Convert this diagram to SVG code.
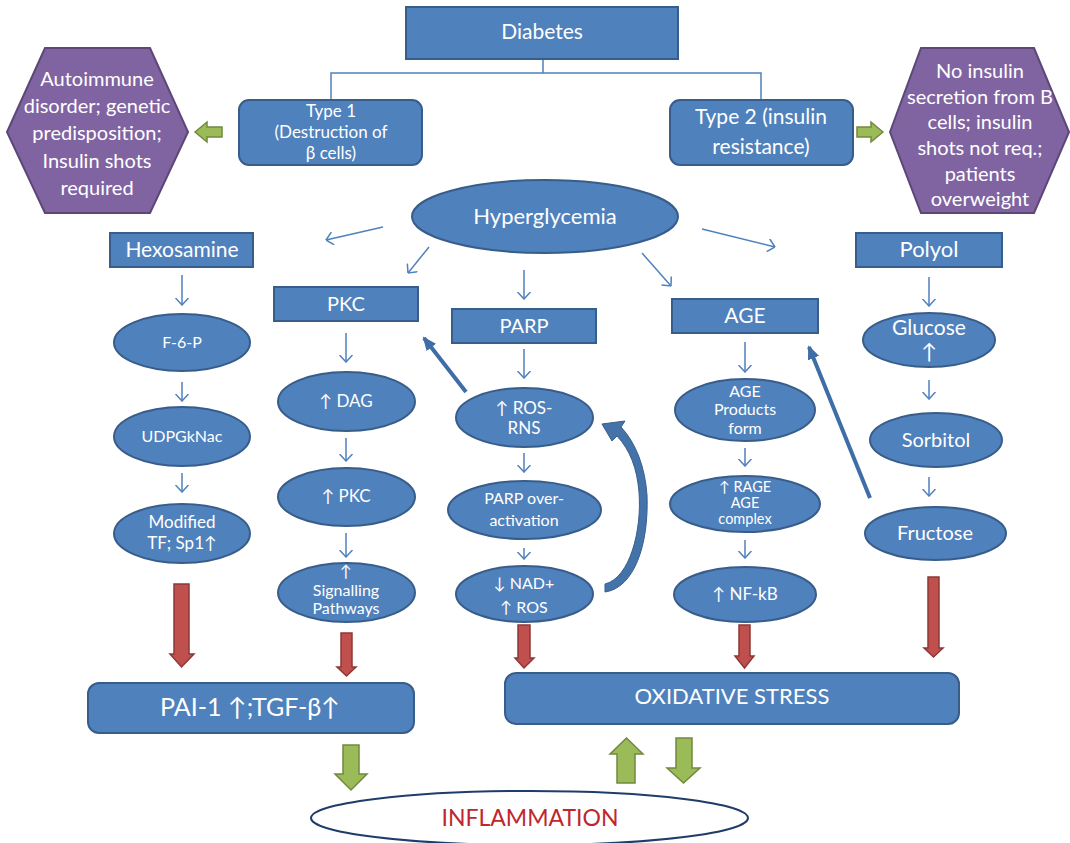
<svg xmlns="http://www.w3.org/2000/svg" width="1070" height="843" viewBox="0 0 1070 843">
<style>
.box{fill:#4F81BD;stroke:#385D8A;stroke-width:2}
.hex{fill:#8064A2;stroke:#5C4776;stroke-width:2}
.t{font-family:Lato,"Liberation Sans",sans-serif;fill:#FFFFFF;text-anchor:middle}
.thin{fill:none;stroke:#4F81BD;stroke-width:1.5}
.thick{fill:none;stroke:#3F6DA8;stroke-width:4}
.red{fill:#C0504D;stroke:#8C3836;stroke-width:1.5}
.green{fill:#9BBB59;stroke:#71893F;stroke-width:1.5}
</style>
<defs>
<marker id="open" viewBox="0 0 8 14" refX="7.5" refY="7" markerWidth="8" markerHeight="14" orient="auto" markerUnits="userSpaceOnUse">
<path d="M0.5,0.5 L7.5,7 L0.5,13.5" fill="none" stroke="#4F81BD" stroke-width="1.5"/>
</marker>
<marker id="solid" viewBox="0 0 14 12" refX="12" refY="6" markerWidth="14" markerHeight="12" orient="auto" markerUnits="userSpaceOnUse">
<path d="M0,0 L14,6 L0,12 Z" fill="#3F6DA8"/>
</marker>
</defs>
<rect width="1070" height="843" fill="#FFFFFF"/>

<g id="connectors">
<path class="thin" d="M543,59 V73 M331,100 V73 H761 V100" stroke-width="2"/>
<line class="thin" x1="383" y1="227" x2="326" y2="240" marker-end="url(#open)"/>
<line class="thin" x1="429" y1="247" x2="408" y2="273" marker-end="url(#open)"/>
<line class="thin" x1="524" y1="270" x2="524" y2="299" marker-end="url(#open)"/>
<line class="thin" x1="642" y1="253" x2="671" y2="286" marker-end="url(#open)"/>
<line class="thin" x1="702" y1="229" x2="775" y2="247" marker-end="url(#open)"/>
<line class="thin" x1="182" y1="275" x2="182" y2="305" marker-end="url(#open)"/>
<line class="thin" x1="182" y1="382" x2="182" y2="401" marker-end="url(#open)"/>
<line class="thin" x1="182" y1="473" x2="182" y2="492" marker-end="url(#open)"/>
<line class="thin" x1="346" y1="333" x2="346" y2="362" marker-end="url(#open)"/>
<line class="thin" x1="346" y1="438" x2="346" y2="461" marker-end="url(#open)"/>
<line class="thin" x1="346" y1="533" x2="346" y2="557" marker-end="url(#open)"/>
<line class="thin" x1="524" y1="349" x2="524" y2="378" marker-end="url(#open)"/>
<line class="thin" x1="524" y1="453" x2="524" y2="472" marker-end="url(#open)"/>
<line class="thin" x1="524" y1="548" x2="524" y2="559" marker-end="url(#open)"/>
<line class="thin" x1="745" y1="342" x2="745" y2="372" marker-end="url(#open)"/>
<line class="thin" x1="745" y1="448" x2="745" y2="466" marker-end="url(#open)"/>
<line class="thin" x1="745" y1="540" x2="745" y2="558" marker-end="url(#open)"/>
<line class="thin" x1="929" y1="277" x2="929" y2="306" marker-end="url(#open)"/>
<line class="thin" x1="929" y1="380" x2="929" y2="399" marker-end="url(#open)"/>
<line class="thin" x1="929" y1="477" x2="929" y2="496" marker-end="url(#open)"/>
<line class="thick" x1="466" y1="392" x2="424" y2="338" marker-end="url(#solid)"/>
<line class="thick" x1="870" y1="498" x2="809" y2="347" marker-end="url(#solid)"/>
<path d="M605,584 C630,578 642,530 639,492 C637,468 630,450 617,436 L612,441 L602,424 L625,421 L621,427 C636,443 645,467 647,495 C649,545 634,588 605,592 Z" fill="#4473AA" stroke="#385D8A" stroke-width="1"/>
<polygon class="red" points="174,584 189,584 189,654 194,654 181.5,667 170,654 174,654"/>
<polygon class="red" points="341,633 352,633 352,667 356,667 346.5,676 337,667 341,667"/>
<polygon class="red" points="518,625 530,625 530,658 534,658 524,668 515,658 518,658"/>
<polygon class="red" points="739,625 750,625 750,656 754,656 744.5,668 735,656 739,656"/>
<polygon class="red" points="928,577 939,577 939,648 943,648 933.5,657 924,648 928,648"/>
<polygon class="green" points="195,132 207,122 207,127 222,127 222,137 207,137 207,142"/>
<polygon class="green" points="883,132 871,122 871,127 857,127 857,137 871,137 871,142"/>
<polygon class="green" points="343,745 359,745 359,774 367,774 351,790 335,774 343,774"/>
<polygon class="green" points="626.5,738 643,754 635,754 635,783 617,783 617,754 610,754"/>
<polygon class="green" points="676,738 692,738 692,768 700,768 683.5,783 667,768 676,768"/>
</g>

<g id="diabetes"><rect class="box" x="406" y="7" width="272" height="52"/><text class="t" x="542" y="39" font-size="21">Diabetes</text></g>
<g id="type1"><rect class="box" x="239" y="100" width="183" height="65" rx="10"/><text class="t" font-size="17"><tspan x="331" y="117">Type 1</tspan><tspan x="331" y="138">(Destruction of</tspan><tspan x="331" y="159">β cells)</tspan></text></g>
<g id="type2"><rect class="box" x="670" y="100" width="183" height="65" rx="10"/><text class="t" font-size="21"><tspan x="761" y="124">Type 2 (insulin</tspan><tspan x="761" y="154">resistance)</tspan></text></g>
<g id="type1-info"><polygon class="hex" points="7,132 45,48 150,48 188,132 150,213 45,213"/><text class="t" font-size="20"><tspan x="97" y="86">Autoimmune</tspan><tspan x="97" y="113">disorder; genetic</tspan><tspan x="97" y="140">predisposition;</tspan><tspan x="97" y="168">Insulin shots</tspan><tspan x="97" y="195">required</tspan></text></g>
<g id="type2-info"><polygon class="hex" points="890,132 921,48 1034,48 1069,132 1034,213 921,213"/><text class="t" font-size="20"><tspan x="980" y="78">No insulin</tspan><tspan x="980" y="104">secretion from B</tspan><tspan x="980" y="129">cells; insulin</tspan><tspan x="980" y="155">shots not req.;</tspan><tspan x="980" y="181">patients</tspan><tspan x="980" y="206">overweight</tspan></text></g>
<g id="hyperglycemia"><ellipse class="box" cx="545" cy="216.5" rx="133" ry="36.5"/><text class="t" x="545" y="224" font-size="22">Hyperglycemia</text></g>

<g id="hexosamine"><rect class="box" x="110" y="233" width="143" height="34"/><text class="t" x="182" y="257" font-size="21">Hexosamine</text></g>
<g id="f6p"><ellipse class="box" cx="182" cy="342.5" rx="68" ry="28.5"/><text class="t" x="182" y="348" font-size="16">F-6-P</text></g>
<g id="udpgknac"><ellipse class="box" cx="182" cy="436.5" rx="68" ry="29.5"/><text class="t" x="182" y="442" font-size="16">UDPGkNac</text></g>
<g id="modified-tf"><ellipse class="box" cx="182" cy="533.5" rx="68" ry="29.5"/><text class="t" font-size="17"><tspan x="182" y="528">Modified</tspan><tspan x="182" y="549">TF; Sp1↑</tspan></text></g>

<g id="pkc"><rect class="box" x="274" y="287" width="144" height="34"/><text class="t" x="346" y="311" font-size="20">PKC</text></g>
<g id="dag"><ellipse class="box" cx="346.5" cy="401.5" rx="68.5" ry="29.5"/><text class="t" x="346" y="407" font-size="17">↑ DAG</text></g>
<g id="pkc-up"><ellipse class="box" cx="346.5" cy="497" rx="68.5" ry="29"/><text class="t" x="346" y="502" font-size="17">↑ PKC</text></g>
<g id="signalling"><ellipse class="box" cx="346.5" cy="592.5" rx="68.5" ry="29.5"/><text class="t" font-size="16"><tspan x="346" y="577">↑</tspan><tspan x="346" y="596">Signalling</tspan><tspan x="346" y="614">Pathways</tspan></text></g>

<g id="parp"><rect class="box" x="452" y="309" width="144" height="34"/><text class="t" x="524" y="333" font-size="20">PARP</text></g>
<g id="ros-rns"><ellipse class="box" cx="524.5" cy="417.5" rx="68.5" ry="29.5"/><text class="t" font-size="17"><tspan x="524" y="414">↑ ROS-</tspan><tspan x="524" y="434">RNS</tspan></text></g>
<g id="parp-over"><ellipse class="box" cx="524.5" cy="510" rx="76.5" ry="29"/><text class="t" font-size="16"><tspan x="524" y="504">PARP over-</tspan><tspan x="524" y="526">activation</tspan></text></g>
<g id="nad"><ellipse class="box" cx="524.5" cy="594" rx="68.5" ry="28"/><text class="t" font-size="16"><tspan x="524" y="589">↓ NAD+</tspan><tspan x="524" y="613">↑ ROS</tspan></text></g>

<g id="age"><rect class="box" x="672" y="299" width="146" height="34"/><text class="t" x="745" y="323" font-size="21">AGE</text></g>
<g id="age-products"><ellipse class="box" cx="745" cy="410" rx="70" ry="31"/><text class="t" font-size="16"><tspan x="745" y="397">AGE</tspan><tspan x="745" y="415">Products</tspan><tspan x="745" y="434">form</tspan></text></g>
<g id="rage"><ellipse class="box" cx="745" cy="504" rx="75" ry="28"/><text class="t" font-size="14.5"><tspan x="745" y="492">↑ RAGE</tspan><tspan x="745" y="508">AGE</tspan><tspan x="745" y="524">complex</tspan></text></g>
<g id="nfkb"><ellipse class="box" cx="745" cy="594.5" rx="71" ry="27.5"/><text class="t" x="745" y="600" font-size="17">↑ NF-kB</text></g>

<g id="polyol"><rect class="box" x="856" y="233" width="146" height="34"/><text class="t" x="929" y="257" font-size="22">Polyol</text></g>
<g id="glucose"><ellipse class="box" cx="929" cy="340" rx="66" ry="27"/><text class="t" font-size="21"><tspan x="929" y="335">Glucose</tspan><tspan x="929" y="359">↑</tspan></text></g>
<g id="sorbitol"><ellipse class="box" cx="936" cy="440" rx="66" ry="27"/><text class="t" x="936" y="447" font-size="20">Sorbitol</text></g>
<g id="fructose"><ellipse class="box" cx="935.5" cy="533.5" rx="70.5" ry="26.5"/><text class="t" x="935" y="540" font-size="20">Fructose</text></g>

<g id="pai-tgf"><rect class="box" x="88" y="683" width="326" height="50" rx="11"/><text class="t" x="250" y="716" font-size="25">PAI-1 ↑;TGF-β↑</text></g>
<g id="oxidative-stress"><rect class="box" x="505" y="673" width="454" height="51" rx="11"/><text class="t" x="732" y="704" font-size="22">OXIDATIVE STRESS</text></g>
<g id="inflammation"><ellipse cx="529.5" cy="818" rx="218.5" ry="27" fill="#FFFFFF" stroke="#1F3D6A" stroke-width="2"/><text class="t" x="530" y="826" font-size="23" style="fill:#C0262D">INFLAMMATION</text></g>
</svg>
